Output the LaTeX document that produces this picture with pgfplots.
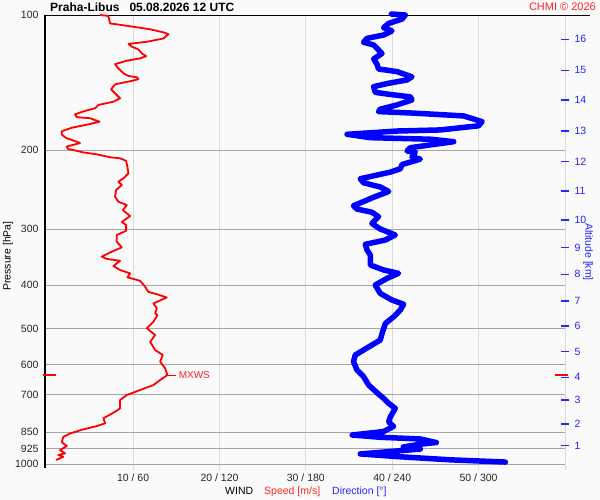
\documentclass[border=0pt]{standalone}
\usepackage{fontspec}
\setmainfont{Liberation Sans}
\usepackage{pgfplots}
\pgfplotsset{compat=1.18}
\usepackage{pgfplotstable}
\definecolor{bg}{RGB}{250,250,250}
\definecolor{gridh}{RGB}{165,165,165}
\definecolor{gridv}{RGB}{218,218,218}
\definecolor{tblue}{RGB}{35,35,255}
\definecolor{tred}{RGB}{255,35,35}
\definecolor{pblue}{RGB}{0,0,255}
\definecolor{pred}{RGB}{255,0,0}

% wind speed [m/s] vs pressure [hPa]
\pgfplotstableread{
s p
6.18 100
7.14 100.5
7.33 104.4
8.11 104.9
10.03 106.2
11.97 107.6
13.51 109.3
14.09 110.3
13.51 112.8
11.59 114.7
9.46 116.0
9.85 117.6
10.61 119.3
11.01 121.8
11.51 123.5
10.81 124.9
9.27 126.4
7.91 128.7
8.30 131.5
8.88 134.9
9.46 136.7
10.43 137.6
10.61 139.0
9.85 140.2
7.91 142.7
7.45 146.4
7.91 149.4
8.49 153.3
7.72 156.0
5.98 158.6
5.60 161.3
4.44 163.5
3.28 166.4
3.48 168.9
5.02 169.8
6.10 172.8
5.02 174.9
2.90 178.3
1.74 181.5
1.74 184.6
2.24 187.9
3.28 190.9
3.86 192.9
2.32 196.3
2.43 198.6
4.24 202.3
5.79 204.3
7.33 207.4
8.49 208.5
9.19 211.3
9.34 217.7
9.46 225.2
8.88 231.1
8.30 235.1
8.69 239.1
8.03 245.4
7.91 253.9
8.30 260.5
9.27 265.0
8.81 271.9
9.65 280.4
8.69 289.1
9.19 293.6
9.19 302.5
8.11 309.0
8.11 319.8
8.69 329.2
7.53 336.7
6.37 345.3
6.95 349.4
8.49 352.6
7.72 362.3
8.49 369.8
9.65 376.2
9.34 384.0
10.81 390.8
11.39 402.8
11.77 413.8
12.75 418.6
13.90 425.7
12.35 438.9
12.75 450.2
12.55 462.0
12.82 465.8
12.35 482.0
11.59 498.6
12.55 516.1
11.97 534.4
12.55 557.4
13.44 571.8
13.13 591.7
13.71 612.4
13.97 633.6
13.13 650.1
12.35 667.0
10.81 684.3
9.27 702.1
8.49 720.3
8.49 751.8
7.91 764.9
6.56 791.4
6.76 811.8
5.79 823.2
4.24 837.2
2.70 855.1
1.92 870.5
1.74 893.7
2.32 911.8
1.54 930.9
2.12 946.9
1.34 955.1
1.92 963.4
1.08 979.7
}\speed

% wind direction [deg] vs pressure [hPa]
\pgfplotstableread{
d p
239.4 99.5
249.1 100
246.8 102.1
237.5 104.4
234.0 106.7
239.8 108.5
234.0 110.8
222.5 112.7
220.1 115.0
227.1 116.6
232.9 121.8
227.1 125.3
229.4 128.7
230.5 131.9
243.3 133.7
253.7 137.3
250.3 139.5
237.5 141.9
227.1 144.4
228.2 148.7
238.7 150.3
252.6 152.2
253.7 154.6
243.3 158.6
231.7 162.1
230.5 164.1
254.9 165.4
289.6 167.8
302.4 172.8
300.0 176.5
273.4 180.3
243.3 181.3
208.6 184.4
224.8 187.6
266.5 189.1
282.7 191.5
266.5 194.7
252.6 197.5
250.3 200.8
256.0 202.2
253.7 206.8
259.5 209.4
246.8 215.3
245.6 220.0
238.7 223.8
217.8 231.6
220.1 236.4
231.7 241.6
237.5 247.2
227.1 254.6
213.1 266.0
215.5 270.5
225.9 275.0
230.5 281.3
225.9 291.2
231.7 299.7
242.1 309.0
235.2 317.1
221.3 324.1
222.5 333.8
224.8 342.4
224.8 360.5
234.0 369.8
244.4 376.1
236.4 386.0
228.2 399.4
231.7 416.9
239.8 431.3
247.9 440.8
245.6 454.0
241.0 470.0
235.2 486.5
232.9 512.6
231.7 529.5
225.9 543.3
220.1 557.4
214.3 571.8
213.1 591.7
215.5 617.6
220.1 639.0
223.6 667.0
229.4 693.7
234.0 714.1
237.5 732.6
242.1 751.8
238.7 785.2
237.5 806.1
240.9 824.5
234.0 846.5
212.2 861.8
231.7 871.9
259.5 879.5
270.6 895.7
259.5 903.4
247.7 916.5
259.5 926.2
217.8 949.7
245.6 963.6
280.4 978.8
318.6 990
}\direction

\begin{document}
\begin{tikzpicture}[x=1pt,y=1pt]
\useasboundingbox (0,0) rectangle (600,500);
\fill[bg] (0,0) rectangle (600,500);

\begin{axis}[
  at={(45pt,36pt)}, anchor=south west,
  scale only axis, width=520pt, height=449pt,
  xmin=-0.2, xmax=60,
  ymode=log, y dir=reverse, ymin=100, ymax=1000,
  axis line style={draw=none},
  clip=false,
  xtick={10,20,30,40,50},
  xticklabels={10 / 60,20 / 120,30 / 180,40 / 240,50 / 300},
  ytick={100,200,300,400,500,600,700,850,925,1000},
  yticklabels={100,200,300,400,500,600,700,850,925,1000},
  tick style={draw=none},
  major tick length=0pt,
  tick label style={font=\fontsize{10.5}{12}\selectfont, text=black!85},
  xticklabel style={yshift=-6pt},
  yticklabel style={xshift=-3pt},
]
% grid
\draw[gridv, line width=0.9pt] (axis cs:10,100) -- ([yshift=-6pt]axis cs:10,1000);
\draw[gridv, line width=0.9pt] (axis cs:20,100) -- ([yshift=-6pt]axis cs:20,1000);
\draw[gridv, line width=0.9pt] (axis cs:30,100) -- ([yshift=-6pt]axis cs:30,1000);
\draw[gridv, line width=0.9pt] (axis cs:40,100) -- ([yshift=-6pt]axis cs:40,1000);
\draw[gridv, line width=0.9pt] (axis cs:50,100) -- ([yshift=-6pt]axis cs:50,1000);
\draw[gridv, line width=0.9pt] (axis cs:60,100) -- ([yshift=-6pt]axis cs:60,1000);
\draw[gridh, line width=0.9pt] (axis cs:-0.2,200) -- (axis cs:60,200);
\draw[gridh, line width=0.9pt] (axis cs:-0.2,300) -- (axis cs:60,300);
\draw[gridh, line width=0.9pt] (axis cs:-0.2,400) -- (axis cs:60,400);
\draw[gridh, line width=0.9pt] (axis cs:-0.2,500) -- (axis cs:60,500);
\draw[gridh, line width=0.9pt] (axis cs:-0.2,600) -- (axis cs:60,600);
\draw[gridh, line width=0.9pt] (axis cs:-0.2,700) -- (axis cs:60,700);
\draw[gridh, line width=0.9pt] (axis cs:-0.2,850) -- (axis cs:60,850);
\draw[gridh, line width=0.9pt] (axis cs:-0.2,925) -- (axis cs:60,925);
\draw[gridh, line width=0.9pt] (axis cs:-0.2,1000) -- (axis cs:60,1000);
% frame lines
\draw[black, line width=1pt] (axis cs:-0.2,100) -- ([xshift=545pt]axis cs:-0.2,100);
\draw[black, line width=1pt] (axis cs:-0.2,100) -- ([yshift=-4pt]axis cs:-0.2,1000);

\addplot[pblue, line width=5.5pt, line join=round, line cap=round]
  table[x expr=\thisrow{d}/6, y=p]{\direction};
\addplot[pred, line width=1.8pt, line join=round]
  table[x=s, y=p]{\speed};

% MXWS markers
\draw[draw=pred, line width=1.3pt] ([xshift=-2pt]axis cs:-0.2,633.6) -- ([xshift=11pt]axis cs:-0.2,633.6);
\draw[draw=pred, line width=1.3pt] ([xshift=-10pt]axis cs:60,633.6) -- ([xshift=3pt]axis cs:60,633.6);
\draw[draw=pred, line width=1pt] (axis cs:13.97,633.6) -- (axis cs:15.0,633.6)
  node[right, inner sep=2pt, font=\fontsize{10}{12}\selectfont, text=tred] {MXWS};
\end{axis}

\begin{axis}[
  at={(45pt,36pt)}, anchor=south west,
  scale only axis, width=520pt, height=449pt,
  xmin=-0.2, xmax=60,
  ymode=log, y dir=reverse, ymin=100, ymax=1000,
  axis x line=none, axis y line*=right,
  y axis line style={draw=none},
  ytick={910,814.5,720,641,562,493,433.5,378.1,329.9,286.2,246.6,212.2,181.3,154.7,132.8,113.3},
  yticklabels={1,2,3,4,5,6,7,8,9,10,11,12,13,14,15,16},
  major tick length=8pt, tick align=center,
  y tick style={pblue!85!white, line width=1.3pt},
  yticklabel style={text=tblue, font=\fontsize{10.5}{12}\selectfont, xshift=2pt},
]
\addplot[draw=none] coordinates {(0,500)};
\end{axis}

% texts
\node[anchor=base west, inner sep=0pt, font=\bfseries\fontsize{12}{14}\selectfont] at (50,488.5)
  {Praha-Libus\hspace{10pt}05.08.2026 12 UTC};
\node[anchor=base east, inner sep=0pt, text=tred, font=\fontsize{11}{13}\selectfont] at (596,489)
  {CHMI © 2026};
\node[rotate=90, inner sep=0pt, font=\fontsize{10.5}{12}\selectfont] at (8,244) {Pressure [hPa]};
\node[rotate=-90, inner sep=0pt, text=tblue, font=\fontsize{10.5}{12}\selectfont] at (588,248) {Altitude [km]};
\node[anchor=base west, inner sep=0pt, font=\fontsize{10.5}{12}\selectfont] at (225,5) {WIND};
\node[anchor=base west, inner sep=0pt, text=tred, font=\fontsize{10.5}{12}\selectfont] at (264,5) {Speed [m/s]};
\node[anchor=base west, inner sep=0pt, text=tblue, font=\fontsize{10.5}{12}\selectfont] at (332,5) {Direction [°]};
\end{tikzpicture}
\end{document}
